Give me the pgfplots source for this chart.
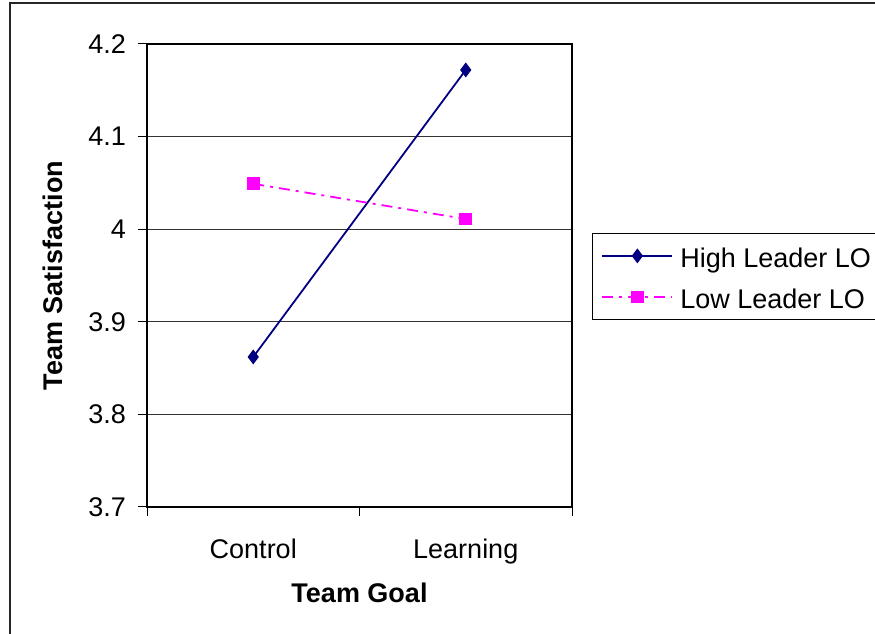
\documentclass[border=0pt]{standalone}
\usepackage{fontspec}
\setmainfont{Liberation Sans}
\usepackage{pgfplots}
\pgfplotsset{compat=1.18}
\definecolor{navy}{RGB}{0,0,128}
\definecolor{mag}{RGB}{255,0,255}
\begin{document}
\fontsize{27}{32}\selectfont
\begin{tikzpicture}
\useasboundingbox (0pt,0pt) rectangle (875pt,634pt);
\begin{scope}
\clip (0pt,0pt) rectangle (875pt,634pt);
\draw[line width=1.5pt, black!85] (10pt,-5pt) -- (10pt,631pt) -- (900pt,631pt);
\end{scope}
\begin{axis}[
  at={(147pt,127pt)}, anchor=south west,
  scale only axis, width=425pt, height=463pt,
  xmin=-0.5, xmax=1.5, ymin=3.7, ymax=4.2,
  xtick={-0.5,0.5,1.5}, xticklabels={},
  extra x ticks={0,1}, extra x tick labels={Control,Learning},
  extra x tick style={major tick length=0pt, xticklabel style={anchor=north, inner sep=0pt, yshift=-32pt}},
  xtick pos=bottom, ytick pos=left,
  ytick={3.7,3.8,3.9,4.0,4.1,4.2},
  yticklabels={3.7,3.8,3.9,4,4.1,4.2},
  yticklabel style={anchor=east, inner sep=0pt, xshift=-12pt},
  /pgf/number format/assume math mode=true,
  ymajorgrids, grid style={black!80, line width=0.8pt},
  tick align=outside, major tick length=9pt,
  tick style={black, line width=1pt},
  axis line style={line width=1.3pt},
  xlabel={\bfseries Team Goal},
  xlabel style={at={(rel axis cs:0.5,-0.2052)}, anchor=base, inner sep=0pt},
  ylabel={\bfseries Team Satisfaction},
  ylabel style={at={(rel axis cs:-0.1976,0.5)}, anchor=south, inner sep=0pt},
  legend style={at={(rel axis cs:1.047,0.592)}, anchor=north west, draw=black, line width=1pt,
    inner xsep=9pt, inner ysep=7pt, row sep=10pt,
    nodes={inner sep=0pt, text height=27pt, text depth=4pt},
    /tikz/every odd column/.append style={column sep=7pt}},
  legend cell align=left,
  legend image code/.code={\draw[mark repeat=2,mark phase=2,#1] plot coordinates {(0pt,0pt)(35pt,0pt)(70pt,0pt)};},
]
\addplot[navy, line width=1.8pt, mark=diamond*, mark size=6pt] coordinates {(0,3.862) (1,4.172)};
\addlegendentry{High Leader LO}
\addplot[mag, line width=1.8pt, dash pattern=on 11pt off 6pt on 3pt off 6pt, mark=square*, mark size=5.5pt, mark options={solid}] coordinates {(0,4.049) (1,4.011)};
\addlegendentry{Low Leader LO}
\end{axis}
\end{tikzpicture}
\end{document}
